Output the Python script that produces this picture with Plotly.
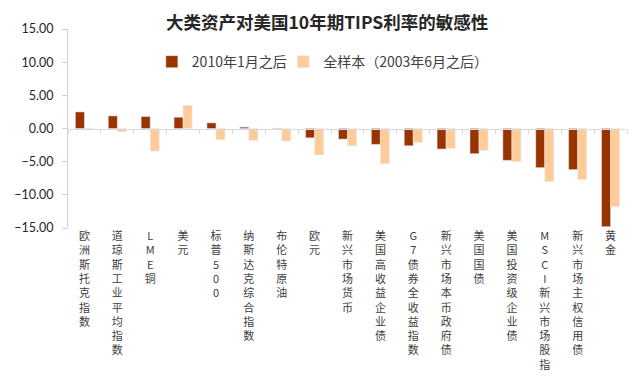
import plotly.graph_objects as go

categories = ["欧洲斯托克指数", "道琼斯工业平均指数", "LME铜", "美元", "标普500", "纳斯达克综合指数",
              "布伦特原油", "欧元", "新兴市场货币", "美国高收益企业债", "G7债券全收益指数",
              "新兴市场本币政府债", "美国国债", "美国投资级企业债", "MSCI新兴市场股指",
              "新兴市场主权信用债", "黄金"]
since_2010 = [2.5, 1.9, 1.8, 1.7, 0.85, 0.2, 0.05, -1.4, -1.6, -2.4, -2.6, -3.1, -3.8, -4.8, -5.9, -6.2, -14.8]
full_sample = [-0.1, -0.5, -3.4, 3.5, -1.7, -1.8, -1.9, -4.0, -2.6, -5.3, -2.1, -3.0, -3.3, -5.0, -8.0, -7.7, -11.8]
y_ticks = [15, 10, 5, 0, -5, -10, -15]
series_names = ["2010年1月之后", "全样本（2003年6月之后）"]

FONT = "Lato, Noto Sans CJK SC, sans-serif"
CJK = "Noto Sans CJK SC, sans-serif"

def vertical(s):
    return "<br>".join(ch for ch in s)

labels = [vertical(c) for c in categories]

fig = go.Figure()
fig.add_trace(go.Bar(x=labels, y=since_2010, name=series_names[0], marker_color="#993300",
                     legend="legend"))
fig.add_trace(go.Bar(x=labels, y=full_sample, name=series_names[1], marker_color="#FFCC99",
                     legend="legend2"))
fig.add_trace(go.Scatter(x=labels, y=[None] * len(labels), xaxis="x2", showlegend=False,
                         hoverinfo="skip", mode="markers"))

legend_common = dict(orientation="h", xanchor="left", yanchor="middle", y=0.834,
                     font=dict(family=CJK, size=14, color="#404040"),
                     bgcolor="rgba(0,0,0,0)")

fig.update_layout(
    width=632, height=370,
    margin=dict(l=60, r=13, t=21, b=150, autoexpand=False),
    paper_bgcolor="white", plot_bgcolor="white",
    barmode="group", bargap=0.45, bargroupgap=0,
    title=dict(text="<b>大类资产对美国10年期TIPS利率的敏感性</b>", x=0.505, xanchor="center",
               y=0.96, yanchor="middle", font=dict(family=CJK, size=17.5, color="#262626")),
    legend=dict(x=0.150, **legend_common),
    legend2=dict(x=0.385, **legend_common),
    xaxis=dict(type="category", range=[-0.5, 16.5], showline=False, ticks="", showgrid=False,
               zeroline=False, automargin=False,
               tickfont=dict(family=CJK, size=11, color="#404040"), tickangle=0),
    xaxis2=dict(type="category", overlaying="x", anchor="free", position=0.5, matches="x",
                showline=True, linecolor="#D9D9D9", linewidth=1, ticks="outside",
                tickson="boundaries", ticklen=4, tickcolor="#D9D9D9", showticklabels=False,
                showgrid=False, zeroline=False, automargin=False),
    yaxis=dict(range=[-15, 15], tickvals=y_ticks, tickformat=".2f", showgrid=False,
               zeroline=False, showline=True, linecolor="#D0D0D0", ticks="outside",
               ticklen=5, tickcolor="#D0D0D0", automargin=False, ticklabelstandoff=6,
               tickfont=dict(family=FONT, size=12.5, color="#262626")),
)

fig.write_html("out.html")
